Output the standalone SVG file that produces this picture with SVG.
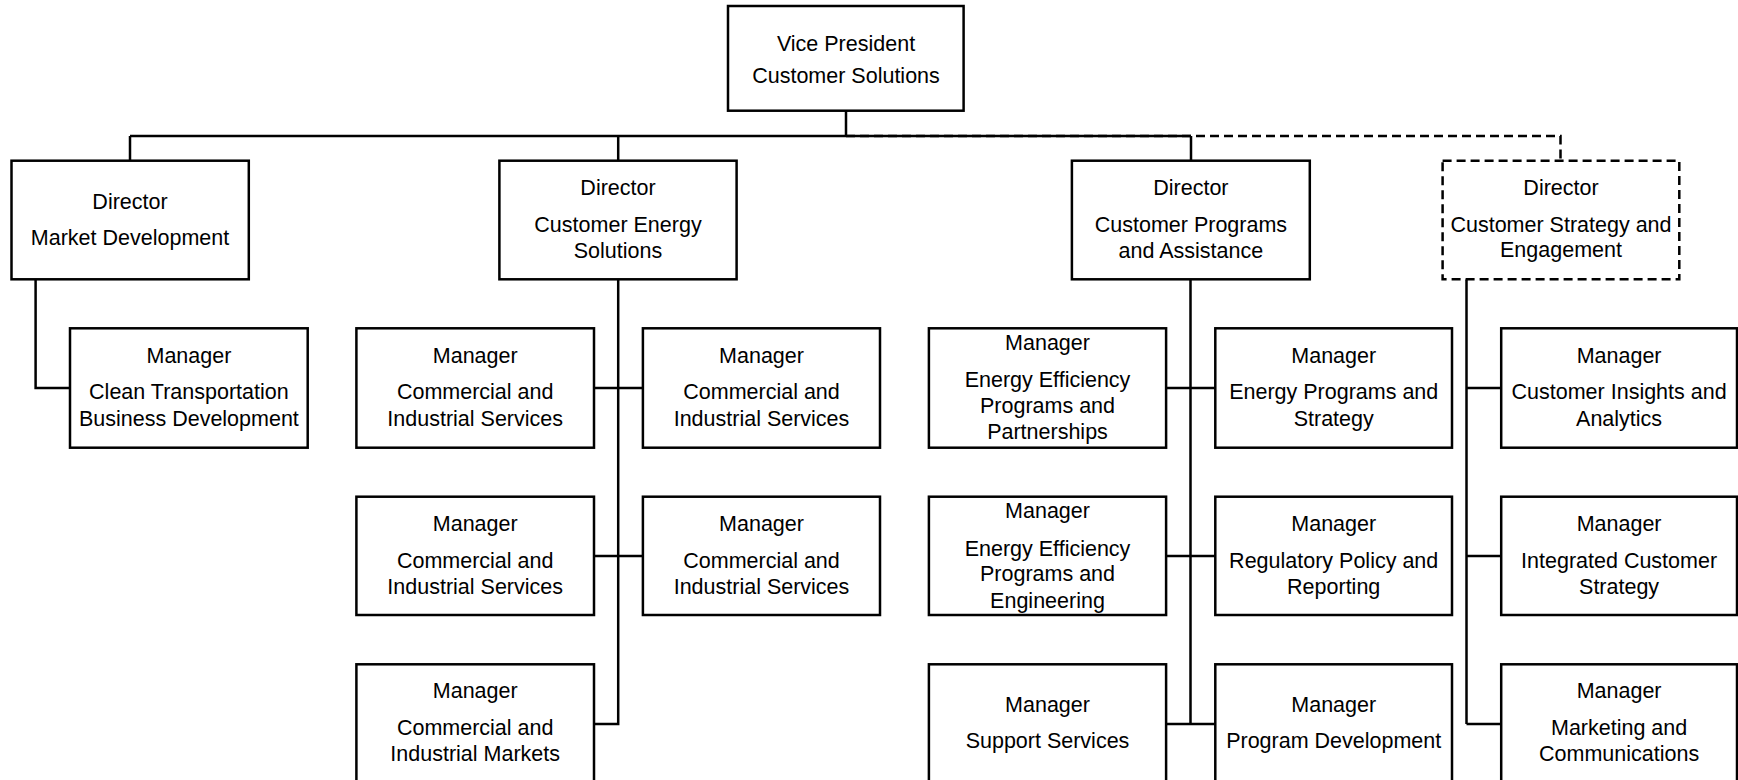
<svg xmlns="http://www.w3.org/2000/svg" width="1738" height="780" viewBox="0 0 1738 780">
<style>
.box{fill:#fff;stroke:#000;stroke-width:2.5}
.dbox{fill:#fff;stroke:#000;stroke-width:2.5;stroke-dasharray:9 5}
.ln{fill:none;stroke:#000;stroke-width:2.5}
.dln{fill:none;stroke:#000;stroke-width:2.5;stroke-dasharray:9 5}
text{font-family:"Liberation Sans",Arial,sans-serif;font-size:21.5px;fill:#000;text-anchor:middle}
</style>
<rect width="1738" height="780" fill="#fff"/>
<g id="connectors">
<path class="ln" d="M846 110.7V136M130 136H1191M130 136V160.7M618.2 136V160.7M1191 136V160.7"/>
<path class="dln" d="M846 136H1560.5V160.7"/>
<path class="ln" d="M35.6 279.3V388H70"/>
<path class="ln" d="M618.2 279.3V724H594M594 388H643M594 556H643"/>
<path class="ln" d="M1190.5 279.3V724M1166 388H1215.3M1166 556H1215.3M1166 724H1215.3"/>
<path class="ln" d="M1466.5 279.3V724M1466.5 388H1501.2M1466.5 556H1501.2M1466.5 724H1501.2"/>
</g>
<g id="vp"><rect class="box" x="728" y="6" width="235.6" height="104.7"/><text x="846" y="50.7">Vice President</text><text x="846" y="83.3">Customer Solutions</text></g>
<g id="dir-md"><rect class="box" x="11.5" y="160.7" width="237.3" height="118.6"/><text x="130" y="209.3">Director</text><text x="130" y="245">Market Development</text></g>
<g id="dir-ces"><rect class="box" x="499.4" y="160.7" width="237.2" height="118.6"/><text x="618" y="195">Director</text><text x="618" y="232.3">Customer Energy</text><text x="618" y="258.3">Solutions</text></g>
<g id="dir-cpa"><rect class="box" x="1071.9" y="160.7" width="237.9" height="118.6"/><text x="1190.9" y="195">Director</text><text x="1190.9" y="232.3">Customer Programs</text><text x="1190.9" y="258.3">and Assistance</text></g>
<g id="dir-cse"><rect class="dbox" x="1442.6" y="160.7" width="236.7" height="118.6"/><text x="1561" y="195">Director</text><text x="1561" y="231.7">Customer Strategy and</text><text x="1561" y="257.3">Engagement</text></g>
<g id="mgr-ctbd"><rect class="box" x="70" y="328.3" width="237.7" height="119.4"/><text x="188.9" y="362.7">Manager</text><text x="188.9" y="399.3">Clean Transportation</text><text x="188.9" y="426">Business Development</text></g>
<g id="mgr-cis1"><rect class="box" x="356.4" y="328.3" width="237.6" height="119.4"/><text x="475.2" y="362.7">Manager</text><text x="475.2" y="399.3">Commercial and</text><text x="475.2" y="426">Industrial Services</text></g>
<g id="mgr-cis2"><rect class="box" x="642.9" y="328.3" width="237.1" height="119.4"/><text x="761.5" y="362.7">Manager</text><text x="761.5" y="399.3">Commercial and</text><text x="761.5" y="426">Industrial Services</text></g>
<g id="mgr-cis3"><rect class="box" x="356.4" y="496.7" width="237.6" height="118.3"/><text x="475.2" y="531">Manager</text><text x="475.2" y="567.6">Commercial and</text><text x="475.2" y="594.3">Industrial Services</text></g>
<g id="mgr-cis4"><rect class="box" x="642.9" y="496.7" width="237.1" height="118.3"/><text x="761.5" y="531">Manager</text><text x="761.5" y="567.6">Commercial and</text><text x="761.5" y="594.3">Industrial Services</text></g>
<g id="mgr-cim"><rect class="box" x="356.4" y="664.3" width="237.6" height="119"/><text x="475.2" y="698.3">Manager</text><text x="475.2" y="735">Commercial and</text><text x="475.2" y="761">Industrial Markets</text></g>
<g id="mgr-eepp"><rect class="box" x="928.9" y="328.3" width="237.2" height="119.4"/><text x="1047.5" y="350">Manager</text><text x="1047.5" y="387.3">Energy Efficiency</text><text x="1047.5" y="412.7">Programs and</text><text x="1047.5" y="439.3">Partnerships</text></g>
<g id="mgr-eps"><rect class="box" x="1215.3" y="328.3" width="236.7" height="119.4"/><text x="1333.7" y="362.7">Manager</text><text x="1333.7" y="399.3">Energy Programs and</text><text x="1333.7" y="426">Strategy</text></g>
<g id="mgr-eepe"><rect class="box" x="928.9" y="496.7" width="237.2" height="118.3"/><text x="1047.5" y="518.3">Manager</text><text x="1047.5" y="555.6">Energy Efficiency</text><text x="1047.5" y="581">Programs and</text><text x="1047.5" y="607.6">Engineering</text></g>
<g id="mgr-rpr"><rect class="box" x="1215.3" y="496.7" width="236.7" height="118.3"/><text x="1333.7" y="531">Manager</text><text x="1333.7" y="567.6">Regulatory Policy and</text><text x="1333.7" y="594.3">Reporting</text></g>
<g id="mgr-ss"><rect class="box" x="928.9" y="664.3" width="237.2" height="119"/><text x="1047.5" y="711.7">Manager</text><text x="1047.5" y="748.3">Support Services</text></g>
<g id="mgr-pd"><rect class="box" x="1215.3" y="664.3" width="236.7" height="119"/><text x="1333.7" y="711.7">Manager</text><text x="1333.7" y="748.3">Program Development</text></g>
<g id="mgr-cia"><rect class="box" x="1501.2" y="328.3" width="235.8" height="119.4"/><text x="1619.1" y="362.7">Manager</text><text x="1619.1" y="399.3">Customer Insights and</text><text x="1619.1" y="426">Analytics</text></g>
<g id="mgr-ics"><rect class="box" x="1501.2" y="496.7" width="235.8" height="118.3"/><text x="1619.1" y="531">Manager</text><text x="1619.1" y="567.6">Integrated Customer</text><text x="1619.1" y="594.3">Strategy</text></g>
<g id="mgr-mc"><rect class="box" x="1501.2" y="664.3" width="235.8" height="119"/><text x="1619.1" y="698.3">Manager</text><text x="1619.1" y="735">Marketing and</text><text x="1619.1" y="761">Communications</text></g>
</svg>
